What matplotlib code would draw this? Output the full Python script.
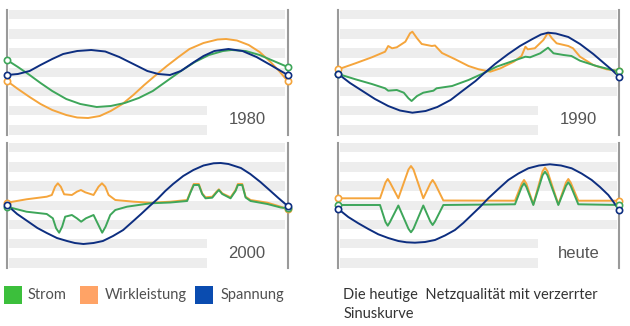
import matplotlib
matplotlib.use("Agg")
import matplotlib.pyplot as plt
from matplotlib.patches import Rectangle

# x = phase angle in degrees (0..360), y = amplitude (arbitrary units, 0 = centre)

# 1980
x_1980_strom = [0, 14, 29, 43, 58, 76, 94, 115, 133, 151, 169, 187, 205, 223, 241, 259, 277, 288, 306, 324, 342, 360]
y_1980_strom = [14, 7, -1, -9, -17, -25, -30, -33, -32, -29, -24, -17, -7, 3, 12, 19, 23, 24, 23, 19, 13, 7]
x_1980_wirk = [0, 14, 29, 43, 58, 76, 90, 104, 119, 133, 148, 162, 176, 191, 205, 220, 234, 252, 270, 281, 295, 310, 324, 338, 349, 360]
y_1980_wirk = [-7, -15, -23, -30, -36, -41, -43.5, -44, -42, -37, -30, -21, -11, -1, 8, 17, 25, 31, 34.5, 35, 33.5, 29, 22, 12, 3, -7]
x_1980_spann = [0, 14, 29, 43, 58, 72, 90, 108, 126, 144, 162, 180, 194, 209, 223, 238, 252, 266, 284, 302, 320, 338, 360]
y_1980_spann = [-1, 0, 3, 9, 15, 20, 23, 24, 22.5, 17, 10, 3, 0, -1, 3, 11, 18, 23, 25, 23, 17, 9, -1]

# 1990
x_1990_strom = [0, 22, 43, 60, 64, 75, 84, 90, 94, 101, 109, 122, 126, 146, 167, 184, 203, 225, 240, 246, 259, 269, 276, 289, 299, 310, 331, 355, 360]
y_1990_strom = [0, -5.3, -10, -14.3, -16.7, -16, -18.7, -24.3, -27, -22, -18.7, -16.7, -14.3, -12, -6, 0, 7.3, 13.3, 17.3, 16.7, 20.7, 26.3, 20.7, 19, 18, 13.3, 8, 3.3, 3]
x_1990_wirk = [0, 22, 43, 60, 64, 69, 75, 86, 92, 95, 101, 107, 120, 124, 133, 150, 167, 180, 195, 208, 225, 235, 240, 243, 252, 263, 269, 274, 280, 295, 301, 310, 327, 344, 360]
y_1990_wirk = [4.7, 10.7, 16.7, 22.3, 28, 25.7, 26.7, 32.3, 40.7, 42.3, 35.7, 30, 28, 28.5, 21, 14.7, 8, 4.7, 2.3, 5.7, 12.3, 18, 27.3, 24.7, 25.7, 34, 41.3, 35.7, 30.7, 28, 25.7, 17.3, 9, 4.7, 3]
x_1990_spann = [0, 15, 31, 47, 64, 79, 95, 112, 127, 144, 159, 176, 186, 201, 218, 233, 249, 260, 269, 279, 295, 310, 327, 342, 351, 360]
y_1990_spann = [0, -9, -17, -25, -32, -36.5, -38.7, -37, -33, -26, -17, -7, 0, 10, 20, 28, 35, 39.5, 41.3, 40.5, 37, 30, 20, 10, 4, -2.7]

# 2000
x_2000_strom = [0, 25, 51, 58.8, 63, 66.9, 70.7, 74.6, 83.2, 89.6, 95.1, 101.2, 111, 118.3, 122.1, 126.4, 132.4, 138.9, 153.9, 183.9, 209.6, 231, 235.3, 239.5, 246, 250.3, 254.6, 263.2, 268.7, 271.7, 276, 286.7, 293.1, 296.1, 301.7, 306, 312.4, 333.9, 351, 360]
y_2000_strom = [0.3, -4.7, -7, -11.3, -21.3, -25.7, -19.7, -9.7, -8, -11.3, -14.7, -11.3, -8, -19.7, -25.7, -19.7, -8, -3, 0.3, 3.7, 4.5, 6, 14.5, 22, 22, 13, 8.7, 9.3, 14.5, 17, 13, 8.7, 16, 22, 22, 9.5, 6, 3, -0.5, -1.3]
x_2000_wirk = [0, 25, 51, 57.5, 61.7, 65.2, 69, 73.3, 83.2, 89.6, 94.8, 100.3, 111, 117.4, 121.8, 126, 130.3, 138.9, 162.4, 183.9, 209.6, 231, 235.3, 239.5, 246, 250.3, 254.6, 263.2, 268.7, 271.7, 276, 286.7, 293.1, 296.1, 301.7, 306, 312.4, 333.9, 351, 360]
y_2000_wirk = [4.3, 7.7, 10.3, 12, 20.3, 23.7, 20.3, 12.7, 12, 15.3, 17, 14.7, 12, 20.3, 23.7, 20.3, 12, 7, 5.3, 4.3, 5.3, 7, 15.3, 23, 23, 13.7, 9.7, 10.3, 15.3, 17.7, 13.7, 9.7, 17, 23, 23, 10.3, 7, 4.3, 0.3, -2.3]
x_2000_spann = [0, 13, 26, 39, 51, 64, 77, 87, 98, 111, 123, 136, 149, 162, 172, 183, 193, 203, 213, 226, 239, 252, 265, 274, 284, 300, 312, 325, 338, 348, 360]
y_2000_spann = [2, -7, -14, -21, -26, -31, -34, -36, -37, -36, -34, -29, -23, -14, -7, 1, 8, 16, 23, 31, 37, 41.5, 43.7, 44, 43, 39, 33, 25, 16, 9, 1]

# heute
x_heute_strom = [0, 53.5, 60.5, 63.4, 66.3, 77, 90, 93.2, 96.4, 109, 118, 121, 124, 134.7, 226.6, 235.3, 238.2, 241.1, 250.1, 262, 265.1, 268.2, 282.2, 292, 295, 298, 307.8, 360]
y_heute_strom = [2, 2, -15, -18.7, -15, 1.5, -21.8, -25.3, -21.8, 1.5, -14.5, -18, -14.5, 2, 2.7, 20.2, 23.7, 20.2, 2, 31.8, 35.3, 31.8, 2, 21.2, 24.7, 21.2, 2.7, 2]
x_heute_wirk = [0, 53.5, 60.5, 63.4, 66.3, 77, 90, 93.2, 96.4, 109, 118, 121, 124, 134.7, 226.6, 235.3, 238.2, 241.1, 250.1, 262, 265.1, 268.2, 282.2, 292, 295, 298, 307.8, 360]
y_heute_wirk = [8.7, 8.7, 24.5, 28, 24.5, 8.7, 37.5, 41, 37.5, 8.7, 23.5, 27, 23.5, 6.5, 6.3, 23.5, 27, 23.5, 2.7, 35.8, 39.3, 35.8, 2.7, 24.5, 28, 24.5, 6.3, 6.3]
x_heute_spann = [0, 12.8, 25.7, 38.5, 51.3, 64, 77, 87.6, 98.3, 111.2, 124, 136.8, 149.6, 160.3, 171, 181.7, 192.4, 205.2, 218, 231, 243.7, 257.4, 271.5, 285.6, 299.3, 312, 325, 335.6, 346.3, 353, 360]
y_heute_spann = [-2, -10, -16.3, -22, -27.3, -31, -34, -35.3, -35.7, -35, -33, -28.5, -23, -16, -8, 0, 8.7, 18, 27, 33.5, 38.7, 41.5, 42.7, 41.5, 38.7, 33.5, 27, 20, 12, 5, -3]

series_names = ["Strom", "Wirkleistung", "Spannung"]
caption_lines = ["Die heutige  Netzqualität mit verzerrter", "Sinuskurve"]

LINE_COLORS = {"Strom": "#3ea65a", "Wirkleistung": "#f5a53c", "Spannung": "#0d2e80"}
KEY_COLORS = {"Strom": "#3cbf3c", "Wirkleistung": "#ffa366", "Spannung": "#0a4cb0"}
TEXT_FONT = ["Lato", "DejaVu Sans"]

W, H = 630, 326
fig = plt.figure(figsize=(W / 100, H / 100), dpi=100)
fig.patch.set_facecolor("white")


def px_axes(left, top, width, height):
    return fig.add_axes([left / W, 1 - (top + height) / H, width / W, height / H])


panels = [
    ("1980", 7, 10, [(x_1980_wirk, y_1980_wirk, "Wirkleistung"),
                     (x_1980_strom, y_1980_strom, "Strom"),
                     (x_1980_spann, y_1980_spann, "Spannung")]),
    ("1990", 338.3, 10, [(x_1990_wirk, y_1990_wirk, "Wirkleistung"),
                         (x_1990_strom, y_1990_strom, "Strom"),
                         (x_1990_spann, y_1990_spann, "Spannung")]),
    ("2000", 7, 143, [(x_2000_wirk, y_2000_wirk, "Wirkleistung"),
                      (x_2000_strom, y_2000_strom, "Strom"),
                      (x_2000_spann, y_2000_spann, "Spannung")]),
    ("heute", 338.3, 143, [(x_heute_wirk, y_heute_wirk, "Wirkleistung"),
                           (x_heute_strom, y_heute_strom, "Strom"),
                           (x_heute_spann, y_heute_spann, "Spannung")]),
]

for label, left, top, curves in panels:
    ax = px_axes(left, top, 280.7, 125)
    ax.set_xlim(0, 360)
    ax.set_ylim(-61, 64)
    ax.set_facecolor("none")
    ax.set_xticks([])
    ax.set_yticks([])
    for side in ("top", "bottom"):
        ax.spines[side].set_visible(False)
    for side in ("left", "right"):
        ax.spines[side].set_color("#9a9a9a")
        ax.spines[side].set_linewidth(1.5)

    # grey background stripes, the last two shortened to leave room for the label
    for k in range(7):
        band_top = 64 - 19.2 * k
        ax.axhspan(band_top - 9.3, band_top, xmin=0.007,
                   xmax=0.992 if k < 5 else 0.712,
                   color="#ededed", lw=0, zorder=0)

    for z, (x, y, name) in enumerate(curves):
        ax.plot(x, y, color=LINE_COLORS[name], lw=1.4, solid_joinstyle="round",
                solid_capstyle="round", zorder=2 + z)
    for z, (x, y, name) in enumerate(curves):
        ax.plot([x[0], x[-1]], [y[0], y[-1]], "o", mfc="white",
                mec=LINE_COLORS[name], ms=4.5, mew=1.2, clip_on=False,
                zorder=6 + z)

    ax.text(308, -46, label, ha="center", va="center", fontsize=12,
            color="#555555", family=["Liberation Sans", "DejaVu Sans"])

# legend and caption on a full-figure overlay in pixel units
ov = fig.add_axes([0, 0, 1, 1])
ov.set_xlim(0, W)
ov.set_ylim(H, 0)
ov.axis("off")
key_x = [4, 80.3, 194.8]
text_x = [28, 104.4, 220.9]
for name, kx, tx in zip(series_names, key_x, text_x):
    ov.add_patch(Rectangle((kx, 286), 18, 18, color=KEY_COLORS[name], lw=0))
    ov.text(tx, 295, name, ha="left", va="center", fontsize=10.5,
            color="#505050", family=TEXT_FONT)

for line, ty in zip(caption_lines, [295, 313.5]):
    ov.text(343.4, ty, line, ha="left", va="center", fontsize=10.5,
            color="#333333", family=TEXT_FONT)

fig.savefig("out.png", dpi=100, facecolor="white")
